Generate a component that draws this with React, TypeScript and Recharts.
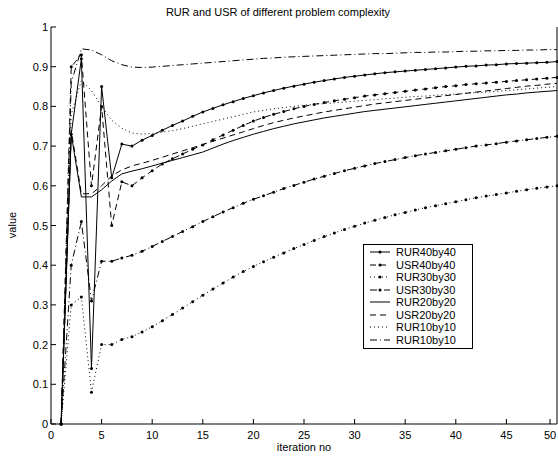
import { Line, LineChart, XAxis, YAxis } from "recharts";

const ITERATIONS = Array.from({ length: 50 }, (_, i) => i + 1);

const RUR40 = [
  0, 0.73, 0.92, 0.14, 0.85, 0.62, 0.705, 0.7, 0.715, 0.727,
  0.74, 0.752, 0.763, 0.775, 0.786, 0.795, 0.804, 0.812, 0.82, 0.827,
  0.834, 0.84, 0.846, 0.851, 0.856, 0.861, 0.865, 0.869, 0.873, 0.876,
  0.879, 0.882, 0.885, 0.887, 0.889, 0.891, 0.893, 0.895, 0.897, 0.899,
  0.901, 0.902, 0.904, 0.905, 0.907, 0.908, 0.909, 0.91, 0.911, 0.913,
];
const USR40 = [
  0, 0.9, 0.93, 0.6, 0.8, 0.5, 0.61, 0.6, 0.62, 0.638,
  0.655, 0.668, 0.68, 0.692, 0.703, 0.716, 0.728, 0.74, 0.752, 0.763,
  0.772, 0.78, 0.787, 0.794, 0.8, 0.805, 0.81, 0.814, 0.818, 0.822,
  0.826, 0.829, 0.832, 0.835, 0.838, 0.841, 0.844, 0.847, 0.85, 0.852,
  0.855, 0.857, 0.859, 0.861, 0.863, 0.865, 0.867, 0.869, 0.871, 0.873,
];
const RUR30 = [
  0, 0.3, 0.32, 0.08, 0.2, 0.2, 0.213, 0.22, 0.232, 0.245,
  0.26, 0.276, 0.292, 0.308, 0.324, 0.34, 0.355, 0.37, 0.384, 0.397,
  0.409, 0.42, 0.431, 0.442, 0.452, 0.462, 0.472, 0.481, 0.49, 0.498,
  0.506, 0.513, 0.52, 0.527, 0.533, 0.539, 0.545, 0.55, 0.555, 0.56,
  0.565, 0.57, 0.574, 0.578, 0.582, 0.586, 0.59, 0.594, 0.597, 0.6,
];
const USR30 = [
  0, 0.4, 0.51, 0.31, 0.41, 0.41, 0.418, 0.425, 0.435, 0.447,
  0.46, 0.472, 0.485, 0.497, 0.51, 0.522, 0.534, 0.545, 0.556, 0.566,
  0.575, 0.584, 0.593, 0.601, 0.609, 0.617, 0.624, 0.631, 0.638, 0.644,
  0.65, 0.656, 0.661, 0.666, 0.671, 0.676, 0.68, 0.684, 0.688, 0.692,
  0.696, 0.7, 0.703, 0.706, 0.71, 0.713, 0.716, 0.719, 0.722, 0.725,
];
const RUR20 = [
  0, 0.73, 0.572, 0.572, 0.59, 0.612, 0.63, 0.637, 0.643, 0.65,
  0.657, 0.664, 0.671, 0.678, 0.685, 0.695, 0.705, 0.714, 0.722, 0.73,
  0.737, 0.744, 0.75, 0.756, 0.761, 0.766, 0.771, 0.775, 0.779, 0.783,
  0.787, 0.79, 0.793, 0.796, 0.799, 0.802, 0.805, 0.808, 0.811, 0.814,
  0.817, 0.82, 0.823, 0.826, 0.829, 0.831, 0.834, 0.836, 0.838, 0.84,
];
const USR20 = [
  0, 0.74, 0.58, 0.58, 0.6, 0.625, 0.64, 0.65, 0.657, 0.664,
  0.672, 0.68, 0.688, 0.696, 0.704, 0.712, 0.72, 0.728, 0.736, 0.744,
  0.752, 0.759, 0.765, 0.771, 0.776, 0.781, 0.786, 0.79, 0.794, 0.798,
  0.802, 0.806, 0.809, 0.812, 0.815, 0.818, 0.821, 0.824, 0.827, 0.83,
  0.833, 0.836, 0.839, 0.842, 0.845, 0.848, 0.851, 0.853, 0.856, 0.858,
];
const RUR10 = [
  0, 0.78, 0.865, 0.84, 0.8, 0.765, 0.745, 0.733, 0.73, 0.732,
  0.735, 0.739, 0.744, 0.75, 0.756, 0.762, 0.768, 0.774, 0.78, 0.786,
  0.79, 0.794, 0.797, 0.8, 0.803, 0.805, 0.807, 0.809, 0.811, 0.813,
  0.815, 0.817, 0.819, 0.821, 0.823, 0.825, 0.826, 0.828, 0.83, 0.831,
  0.833, 0.835, 0.836, 0.838, 0.84, 0.842, 0.844, 0.846, 0.848, 0.85,
];
const RUR10B = [
  0, 0.86, 0.945, 0.942, 0.93, 0.915, 0.905, 0.899, 0.898, 0.899,
  0.901, 0.903, 0.905, 0.907, 0.909, 0.911, 0.913, 0.915, 0.917, 0.919,
  0.921, 0.922, 0.924, 0.925, 0.926, 0.927, 0.928, 0.929, 0.93, 0.931,
  0.932, 0.933, 0.933, 0.934, 0.935, 0.936, 0.936, 0.937, 0.937, 0.938,
  0.939, 0.939, 0.94, 0.94, 0.941, 0.941, 0.942, 0.942, 0.943, 0.943,
];

const X_TICKS = [0, 5, 10, 15, 20, 25, 30, 35, 40, 45, 50];
const Y_TICKS = [0, 0.1, 0.2, 0.3, 0.4, 0.5, 0.6, 0.7, 0.8, 0.9, 1];

const SOLID = undefined;
const DASHED = "6 4";
const DOTTED = "1 3";
const DASHDOT = "7 3 1 3";

const SERIES = [
  { key: "rur40", name: "RUR40by40", values: RUR40, dash: SOLID, marker: true },
  { key: "usr40", name: "USR40by40", values: USR40, dash: DASHED, marker: true },
  { key: "rur30", name: "RUR30by30", values: RUR30, dash: DOTTED, marker: true },
  { key: "usr30", name: "USR30by30", values: USR30, dash: DASHDOT, marker: true },
  { key: "rur20", name: "RUR20by20", values: RUR20, dash: SOLID, marker: false },
  { key: "usr20", name: "USR20by20", values: USR20, dash: DASHED, marker: false },
  { key: "rur10", name: "RUR10by10", values: RUR10, dash: DOTTED, marker: false },
  { key: "rur10b", name: "RUR10by10", values: RUR10B, dash: DASHDOT, marker: false },
];

const data = ITERATIONS.map((it, i) => {
  const row: Record<string, number> = { it };
  SERIES.forEach((s) => (row[s.key] = s.values[i]));
  return row;
});

const FONT = "'Liberation Sans', Arial, Helvetica, sans-serif";
const INK = "#000";

function BottomTick({ x, y, payload }: any) {
  return (
    <g>
      <line x1={x} x2={x} y1={y} y2={y - 5} stroke={INK} />
      <text x={x} y={y + 15} textAnchor="middle" fontSize={11} fontFamily={FONT} fill={INK}>
        {payload.value}
      </text>
    </g>
  );
}

function TopTick({ x, y }: any) {
  return <line x1={x} x2={x} y1={y} y2={y + 5} stroke={INK} />;
}

function LeftTick({ x, y, payload }: any) {
  return (
    <g>
      <line x1={x} x2={x + 5} y1={y} y2={y} stroke={INK} />
      <text x={x - 3} y={y + 4} textAnchor="end" fontSize={11} fontFamily={FONT} fill={INK}>
        {payload.value}
      </text>
    </g>
  );
}

function RightTick({ x, y }: any) {
  return <line x1={x} x2={x - 5} y1={y} y2={y} stroke={INK} />;
}

// legend drawn as an overlay so it doesn't eat into the plot area
function LegendBox() {
  return (
    <div
      style={{
        position: "absolute",
        left: 363,
        top: 244,
        width: 108,
        border: "1px solid #000",
        background: "#fff",
        padding: "1px 0 2px 0",
        fontFamily: FONT,
        fontSize: 11,
        lineHeight: "12.5px",
      }}
    >
      {SERIES.map((s, i) => (
        <div key={i} style={{ display: "flex", alignItems: "center", height: 12.5 }}>
          <svg width={32} height={12} style={{ flex: "none" }}>
            <line x1={6} x2={26} y1={6} y2={6} stroke={INK} strokeDasharray={s.dash} />
            {s.marker && <circle cx={16} cy={6} r={1.5} fill={INK} />}
          </svg>
          <span>{s.name}</span>
        </div>
      ))}
    </div>
  );
}

export default function App() {
  return (
    <div style={{ position: "absolute", left: 0, top: 0, width: 558, height: 461, background: "#fff" }}>
      <div
        style={{
          position: "absolute",
          left: 0,
          top: 6,
          width: 556,
          textAlign: "center",
          fontFamily: FONT,
          fontSize: 11,
          zIndex: 2,
        }}
      >
        RUR and USR of different problem complexity
      </div>
      <LineChart width={558} height={461} data={data} margin={{ top: 27, right: 0, bottom: 0, left: 0 }}>
        <XAxis
          xAxisId="b"
          dataKey="it"
          type="number"
          domain={[0, 50]}
          ticks={X_TICKS}
          tickSize={0}
          tickMargin={0}
          tickLine={false}
          height={37}
          stroke={INK}
          tick={<BottomTick />}
          label={{
            content: () => (
              <text x={304} y={451} textAnchor="middle" fontSize={11} fontFamily={FONT} fill={INK}>
                iteration no
              </text>
            ),
          }}
        />
        <XAxis
          xAxisId="t"
          orientation="top"
          dataKey="it"
          type="number"
          domain={[0, 50]}
          ticks={X_TICKS}
          tickSize={0}
          tickMargin={0}
          tickLine={false}
          height={0}
          stroke={INK}
          tick={<TopTick />}
        />
        <YAxis
          yAxisId="l"
          type="number"
          domain={[0, 1]}
          ticks={Y_TICKS}
          tickSize={0}
          tickMargin={0}
          tickLine={false}
          width={51}
          stroke={INK}
          tick={<LeftTick />}
          label={{
            content: () => (
              <text
                x={16}
                y={225}
                transform="rotate(-90 16 225)"
                textAnchor="middle"
                fontSize={11}
                fontFamily={FONT}
                fill={INK}
              >
                value
              </text>
            ),
          }}
        />
        <YAxis
          yAxisId="r"
          orientation="right"
          type="number"
          domain={[0, 1]}
          ticks={Y_TICKS}
          tickSize={0}
          tickMargin={0}
          tickLine={false}
          width={1}
          stroke={INK}
          tick={<RightTick />}
        />
        {SERIES.map((s) => (
          <Line
            key={s.key}
            xAxisId="b"
            yAxisId="l"
            dataKey={s.key}
            name={s.name}
            type="linear"
            stroke={INK}
            strokeWidth={1}
            strokeDasharray={s.dash}
            dot={s.marker ? { r: 1.5, fill: INK, stroke: "none", strokeDasharray: "" } : false}
            activeDot={false}
            isAnimationActive={false}
          />
        ))}
      </LineChart>
      <LegendBox />
    </div>
  );
}
